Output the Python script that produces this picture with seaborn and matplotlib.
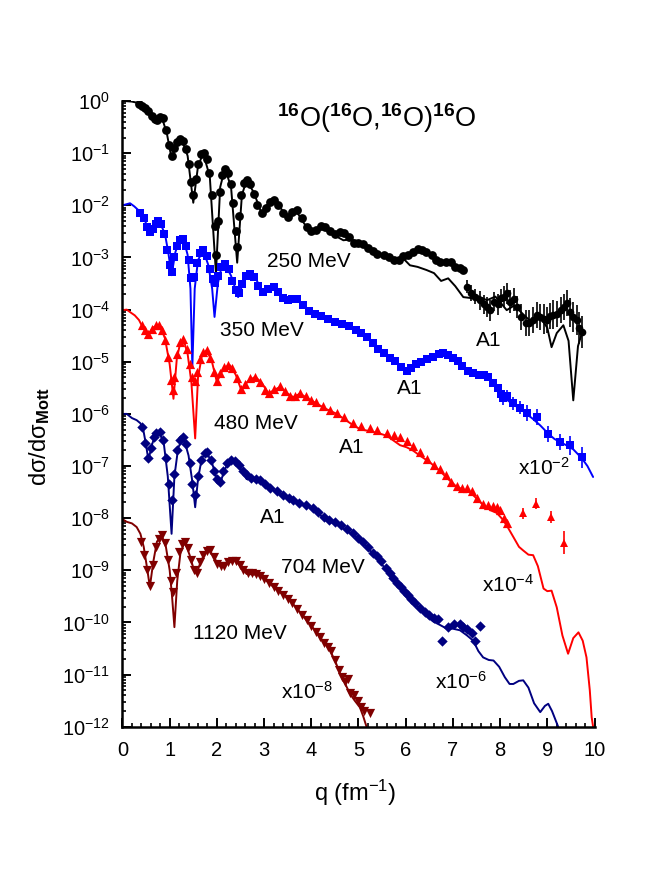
import numpy as np
import matplotlib
matplotlib.use("Agg")
import matplotlib.pyplot as plt
import seaborn as sns
from matplotlib.ticker import LogLocator, NullFormatter, MultipleLocator

# values are log10(dsigma/dsigma_Mott), already scaled (x1, x1e-2, x1e-4, x1e-6, x1e-8)

# ---- 250 MeV (black) ----
q_250_fit = [0.05, 0.2, 0.3, 0.4, 0.5, 0.6, 0.72, 0.83, 0.94, 1.04, 1.14, 1.25, 1.38, 1.50, 1.60, 1.71,
             1.85, 1.98, 2.07, 2.17, 2.30, 2.43, 2.53, 2.63, 2.78, 2.95, 3.05, 3.19, 3.35, 3.50, 3.69,
             3.85, 4.04, 4.18, 4.33, 4.50, 4.68, 4.85, 5.03, 5.17, 5.35, 5.50, 5.65, 5.80, 5.95, 6.09,
             6.25, 6.44, 6.60, 6.75, 6.90, 7.05, 7.22, 7.40, 7.55, 7.72, 7.90, 8.14, 8.30, 8.50, 8.70,
             8.85, 9.00, 9.09, 9.20, 9.34, 9.45, 9.55, 9.65, 9.73]
lg_250_fit = [0.0, -0.01, -0.03, -0.07, -0.14, -0.24, -0.38, -0.30, -0.62, -1.10, -0.85, -0.72, -1.05, -1.95,
              -1.25, -1.00, -1.45, -3.30, -1.65, -1.29, -1.65, -3.10, -1.80, -1.52, -1.75, -2.16, -2.00,
              -1.90, -2.05, -2.25, -2.12, -2.35, -2.55, -2.45, -2.45, -2.58, -2.67, -2.65, -2.73, -2.78,
              -2.95, -2.95, -3.02, -3.05, -3.02, -3.15, -3.18, -3.24, -3.30, -3.45, -3.40, -3.55, -3.76,
              -3.78, -3.75, -3.82, -3.75, -4.01, -3.92, -4.10, -4.27, -4.14, -4.35, -4.72, -4.45, -4.30,
              -4.60, -5.74, -4.70, -4.46]
q_250 = [0.35, 0.42, 0.48, 0.55, 0.62, 0.68, 0.74, 0.80, 0.86, 0.92, 0.98, 1.04, 1.10, 1.16, 1.22, 1.28,
         1.34, 1.40, 1.46, 1.50, 1.55, 1.60, 1.66, 1.72, 1.78, 1.84, 1.90, 1.95, 1.98, 2.02, 2.06, 2.11,
         2.17, 2.23, 2.29, 2.35, 2.40, 2.43, 2.47, 2.52, 2.58, 2.64, 2.70, 2.78, 2.86, 2.95, 3.03, 3.12,
         3.20, 3.30, 3.40, 3.50, 3.60, 3.69, 3.80, 3.90, 4.00, 4.10, 4.20, 4.30, 4.40, 4.50, 4.60, 4.70,
         4.80, 4.90, 5.00, 5.10, 5.20, 5.30, 5.40, 5.53, 5.65, 5.75, 5.85, 5.95, 6.05, 6.15, 6.27, 6.35,
         6.44, 6.55, 6.65, 6.73, 6.85, 6.95, 7.05, 7.15, 7.22]
lg_250 = [-0.05, -0.09, -0.14, -0.20, -0.28, -0.35, -0.37, -0.30, -0.33, -0.55, -0.85, -1.05, -0.90, -0.78,
          -0.72, -0.76, -0.92, -1.20, -1.55, -1.80, -1.50, -1.20, -1.02, -1.00, -1.12, -1.38, -1.80, -2.40,
          -2.95, -2.30, -1.75, -1.42, -1.30, -1.38, -1.60, -1.95, -2.50, -2.80, -2.20, -1.80, -1.58, -1.52,
          -1.60, -1.78, -2.00, -2.15, -2.05, -1.93, -1.90, -2.00, -2.15, -2.22, -2.12, -2.09, -2.25, -2.42,
          -2.50, -2.47, -2.40, -2.42, -2.50, -2.55, -2.52, -2.54, -2.60, -2.72, -2.73, -2.74, -2.82, -2.88,
          -2.93, -2.96, -3.00, -3.04, -3.04, -2.98, -2.95, -2.90, -2.83, -2.86, -2.89, -2.95, -3.05, -3.08,
          -3.09, -3.08, -3.18, -3.21, -3.24]
q_250_a1 = [7.29, 7.38, 7.47, 7.57, 7.65, 7.72, 7.79, 7.88, 7.95, 8.02, 8.08, 8.14, 8.22, 8.30, 8.35, 8.45,
            8.55, 8.62, 8.70, 8.78, 8.85, 8.92, 8.99, 9.05, 9.12, 9.20, 9.28, 9.35, 9.41, 9.48, 9.55, 9.62,
            9.68, 9.73]
lg_250_a1 = [-3.56, -3.68, -3.75, -3.82, -3.90, -3.95, -4.01, -3.85, -3.90, -3.78, -3.75, -3.69, -3.85, -3.80,
             -3.95, -4.15, -4.25, -4.25, -4.20, -4.10, -4.15, -4.18, -4.20, -4.12, -4.10, -4.08, -4.00, -3.95,
             -3.88, -4.05, -4.14, -4.20, -4.35, -4.43]
err_250_a1 = [0.12, 0.15, 0.15, 0.18, 0.18, 0.20, 0.20, 0.18, 0.20, 0.18, 0.20, 0.20, 0.22, 0.22, 0.22, 0.25,
              0.25, 0.25, 0.25, 0.25, 0.25, 0.28, 0.25, 0.25, 0.28, 0.25, 0.25, 0.25, 0.25, 0.28, 0.28, 0.28,
              0.30, 0.30]

# ---- 350 MeV (blue), x10^-2 ----
q_350_fit = [0.0, 0.08, 0.16, 0.25, 0.37, 0.48, 0.58, 0.68, 0.79, 0.90, 0.97, 1.04, 1.12, 1.20, 1.29, 1.38,
             1.44, 1.48, 1.53, 1.60, 1.71, 1.82, 1.90, 1.95, 2.02, 2.10, 2.17, 2.30, 2.45, 2.58, 2.70, 2.85,
             2.98, 3.10, 3.20, 3.35, 3.48, 3.60, 3.69, 3.85, 4.04, 4.18, 4.40, 4.68, 4.82, 5.03, 5.17, 5.30,
             5.46, 5.60, 5.74, 5.88, 6.02, 6.15, 6.30, 6.50, 6.70, 6.80, 6.95, 7.08, 7.25, 7.43, 7.60, 7.79,
             7.95, 8.07, 8.28, 8.45, 8.56, 8.70, 8.85, 9.02, 9.15, 9.27, 9.40, 9.55, 9.73, 9.85, 9.97]
lg_350_fit = [-2.00, -1.98, -1.96, -2.02, -2.12, -2.30, -2.55, -2.40, -2.32, -2.55, -2.90, -3.34, -2.90, -2.68,
              -2.64, -2.95, -3.60, -5.10, -3.60, -3.05, -2.86, -3.15, -3.60, -4.14, -3.50, -3.18, -3.12, -3.35,
              -3.76, -3.42, -3.31, -3.45, -3.69, -3.58, -3.56, -3.72, -3.82, -3.80, -3.80, -3.95, -4.08, -4.12,
              -4.20, -4.30, -4.33, -4.43, -4.52, -4.65, -4.78, -4.88, -4.97, -5.08, -5.16, -5.08, -5.00, -4.92,
              -4.85, -4.84, -4.90, -4.97, -5.12, -5.23, -5.28, -5.35, -5.55, -5.68, -5.82, -5.92, -6.00, -6.10,
              -6.22, -6.38, -6.48, -6.54, -6.60, -6.68, -6.85, -7.00, -7.21]
q_350 = [0.38, 0.45, 0.52, 0.58, 0.64, 0.70, 0.76, 0.82, 0.88, 0.94, 1.00, 1.04, 1.09, 1.15, 1.21, 1.28,
         1.34, 1.40, 1.46, 1.52, 1.58, 1.64, 1.71, 1.78, 1.85, 1.91, 1.96, 2.02, 2.09, 2.17, 2.25, 2.33,
         2.40, 2.46, 2.53, 2.62, 2.70, 2.78, 2.88, 2.98, 3.08, 3.20, 3.30, 3.40, 3.50, 3.60, 3.70, 3.82,
         3.95, 4.08, 4.20, 4.35, 4.50, 4.65, 4.80, 4.95, 5.05, 5.17, 5.30, 5.42, 5.55, 5.67, 5.78, 5.90,
         6.02, 6.12, 6.22, 6.32, 6.45, 6.58, 6.70, 6.80, 6.90, 7.00, 7.10, 7.20, 7.32, 7.43, 7.55, 7.65,
         7.75, 7.85]
lg_350 = [-2.15, -2.25, -2.42, -2.52, -2.45, -2.35, -2.30, -2.35, -2.55, -2.85, -3.15, -3.28, -3.00, -2.78,
          -2.66, -2.65, -2.78, -3.05, -3.40, -3.38, -3.10, -2.92, -2.86, -2.98, -3.22, -3.42, -3.48, -3.35,
          -3.18, -3.12, -3.22, -3.45, -3.62, -3.68, -3.50, -3.35, -3.31, -3.38, -3.55, -3.66, -3.60, -3.56,
          -3.66, -3.78, -3.82, -3.80, -3.80, -3.92, -4.02, -4.08, -4.13, -4.18, -4.24, -4.28, -4.32, -4.40,
          -4.45, -4.52, -4.64, -4.75, -4.84, -4.92, -4.98, -5.10, -5.18, -5.12, -5.05, -5.00, -4.95, -4.90,
          -4.86, -4.84, -4.88, -4.93, -4.98, -5.08, -5.18, -5.22, -5.25, -5.26, -5.30, -5.40]
q_350_a1 = [7.95, 8.02, 8.07, 8.15, 8.28, 8.42, 8.56, 8.78, 9.02, 9.27, 9.48, 9.73]
lg_350_a1 = [-5.50, -5.62, -5.70, -5.65, -5.80, -5.88, -5.98, -6.06, -6.38, -6.54, -6.60, -6.83]
err_350_a1 = [0.08, 0.10, 0.12, 0.10, 0.12, 0.12, 0.15, 0.15, 0.15, 0.15, 0.18, 0.20]

# ---- 480 MeV (red), x10^-4 ----
q_480_fit = [0.0, 0.09, 0.18, 0.26, 0.35, 0.44, 0.55, 0.67, 0.79, 0.90, 1.00, 1.08, 1.15, 1.22, 1.29, 1.38,
             1.46, 1.54, 1.60, 1.68, 1.78, 1.89, 2.00, 2.10, 2.18, 2.28, 2.40, 2.52, 2.65, 2.81, 2.95, 3.09,
             3.20, 3.34, 3.48, 3.62, 3.76, 3.92, 4.11, 4.30, 4.54, 4.70, 4.89, 5.05, 5.24, 5.46, 5.60, 5.88,
             6.02, 6.15, 6.30, 6.50, 6.73, 6.90, 7.08, 7.22, 7.36, 7.50, 7.64, 7.80, 7.93, 8.05, 8.14, 8.28,
             8.40, 8.49, 8.60, 8.70, 8.80, 8.92, 9.00, 9.09, 9.20, 9.32, 9.44, 9.55, 9.66, 9.75, 9.83, 9.90,
             9.94, 9.97]
lg_480_fit = [-4.01, -4.00, -4.06, -4.11, -4.20, -4.36, -4.46, -4.33, -4.30, -4.55, -5.05, -5.71, -4.95, -4.65,
              -4.56, -4.85, -5.40, -6.47, -5.30, -4.90, -4.78, -4.98, -5.39, -5.20, -5.10, -5.07, -5.25, -5.55,
              -5.38, -5.29, -5.40, -5.61, -5.55, -5.48, -5.60, -5.68, -5.61, -5.70, -5.80, -5.90, -6.00, -6.10,
              -6.22, -6.30, -6.33, -6.38, -6.42, -6.60, -6.64, -6.70, -6.80, -6.92, -7.10, -7.25, -7.40, -7.45,
              -7.50, -7.62, -7.75, -7.85, -7.90, -8.02, -8.14, -8.36, -8.55, -8.62, -8.70, -8.71, -8.92, -9.35,
              -9.40, -9.39, -9.71, -10.25, -10.60, -10.30, -10.19, -10.35, -10.67, -11.30, -11.82, -12.0]
q_480 = [0.42, 0.48, 0.55, 0.62, 0.70, 0.78, 0.84, 0.90, 0.96, 1.02, 1.06, 1.10, 1.16, 1.22, 1.29, 1.36,
         1.42, 1.48, 1.53, 1.58, 1.64, 1.71, 1.78, 1.86, 1.94, 2.00, 2.07, 2.15, 2.24, 2.32, 2.42, 2.52,
         2.60, 2.70, 2.81, 2.92, 3.02, 3.10, 3.20, 3.34, 3.45, 3.55, 3.65, 3.76, 3.88, 4.00, 4.11, 4.25,
         4.40, 4.54, 4.70, 4.89, 5.05, 5.24, 5.40, 5.60, 5.75, 5.88, 6.02, 6.15, 6.30, 6.45, 6.60, 6.73,
         6.85, 6.97, 7.08, 7.20, 7.30, 7.40, 7.52, 7.64, 7.75, 7.85, 7.93, 8.00, 8.08, 8.14]
lg_480 = [-4.30, -4.40, -4.47, -4.38, -4.30, -4.30, -4.40, -4.58, -4.90, -5.35, -5.55, -5.30, -4.85, -4.62,
          -4.56, -4.75, -5.05, -5.30, -5.36, -5.20, -4.95, -4.82, -4.78, -4.92, -5.20, -5.36, -5.22, -5.10,
          -5.07, -5.12, -5.32, -5.52, -5.42, -5.32, -5.29, -5.38, -5.55, -5.60, -5.53, -5.47, -5.56, -5.65,
          -5.66, -5.60, -5.66, -5.74, -5.78, -5.85, -5.93, -5.98, -6.05, -6.17, -6.24, -6.27, -6.31, -6.36,
          -6.40, -6.44, -6.52, -6.62, -6.74, -6.86, -6.98, -7.06, -7.18, -7.30, -7.38, -7.42, -7.43, -7.48,
          -7.62, -7.72, -7.74, -7.76, -7.78, -7.85, -8.00, -8.10]
q_480_far = [8.48, 8.76, 9.07, 9.35]
lg_480_far = [-7.91, -7.72, -7.98, -8.47]
err_480_far = [0.10, 0.10, 0.12, 0.22]

# ---- 704 MeV (navy), x10^-6 ----
q_704_fit = [0.0, 0.09, 0.20, 0.30, 0.38, 0.44, 0.50, 0.55, 0.62, 0.70, 0.79, 0.88, 0.96, 1.04, 1.10, 1.18,
             1.29, 1.40, 1.48, 1.54, 1.60, 1.68, 1.78, 1.90, 2.00, 2.07, 2.15, 2.25, 2.35, 2.50, 2.63, 2.75,
             2.91, 3.05, 3.27, 3.45, 3.62, 3.80, 4.04, 4.20, 4.33, 4.54, 4.68, 4.85, 5.03, 5.20, 5.39, 5.55,
             5.74, 5.88, 6.02, 6.16, 6.30, 6.44, 6.58, 6.73, 6.87, 7.00, 7.15, 7.30, 7.43, 7.54, 7.64, 7.76,
             7.86, 7.98, 8.10, 8.20, 8.28, 8.40, 8.49, 8.60, 8.72, 8.85, 8.95, 9.02, 9.10, 9.23]
lg_704_fit = [-6.00, -6.00, -6.08, -6.12, -6.18, -6.30, -6.60, -6.89, -6.60, -6.40, -6.35, -6.60, -7.20, -8.30,
              -7.20, -6.65, -6.44, -6.80, -7.30, -7.79, -7.25, -6.85, -6.73, -6.95, -7.25, -7.34, -7.10, -6.92,
              -6.89, -7.05, -7.25, -7.22, -7.27, -7.38, -7.50, -7.60, -7.66, -7.72, -7.82, -7.95, -8.04, -8.12,
              -8.20, -8.30, -8.43, -8.58, -8.76, -8.95, -9.20, -9.35, -9.52, -9.62, -9.75, -9.88, -9.98, -10.05,
              -10.12, -10.12, -10.15, -10.25, -10.35, -10.55, -10.67, -10.72, -10.73, -10.85, -11.05, -11.18,
              -11.18, -11.12, -11.11, -11.25, -11.55, -11.72, -11.60, -11.56, -11.70, -12.0]
q_704 = [0.42, 0.48, 0.55, 0.60, 0.66, 0.72, 0.79, 0.85, 0.92, 0.98, 1.04, 1.10, 1.16, 1.22, 1.29, 1.35,
         1.42, 1.48, 1.54, 1.60, 1.67, 1.74, 1.80, 1.87, 1.94, 2.00, 2.07, 2.14, 2.22, 2.30, 2.38, 2.46,
         2.55, 2.63, 2.72, 2.82, 2.91, 3.02, 3.12, 3.27, 3.40, 3.52, 3.62, 3.75, 3.88, 4.04, 4.15, 4.27,
         4.38, 4.50, 4.62, 4.75, 4.88, 5.00, 5.10, 5.20, 5.30, 5.39, 5.48, 5.58, 5.66, 5.74, 5.82, 5.90,
         5.97, 6.05, 6.12, 6.20, 6.30, 6.40, 6.50, 6.60, 6.68, 6.76, 6.90, 7.02, 7.15, 7.22, 7.29, 7.40,
         7.47, 7.57]
lg_704 = [-6.25, -6.55, -6.85, -6.65, -6.45, -6.37, -6.35, -6.50, -6.85, -7.35, -7.65, -7.15, -6.70, -6.50,
          -6.44, -6.58, -6.95, -7.35, -7.55, -7.20, -6.88, -6.75, -6.74, -6.88, -7.10, -7.25, -7.30, -7.10,
          -6.94, -6.89, -6.90, -6.98, -7.10, -7.18, -7.22, -7.25, -7.27, -7.35, -7.42, -7.48, -7.55, -7.62,
          -7.66, -7.70, -7.74, -7.80, -7.88, -7.98, -8.04, -8.08, -8.13, -8.20, -8.28, -8.38, -8.45, -8.55,
          -8.66, -8.72, -8.82, -8.95, -9.05, -9.15, -9.25, -9.32, -9.40, -9.48, -9.55, -9.62, -9.72, -9.80,
          -9.85, -9.92, -9.94, -10.35, -10.09, -10.03, -10.03, -10.08, -10.12, -10.20, -10.35, -10.06]

# ---- 1120 MeV (dark red), x10^-8 ----
q_1120_fit = [0.0, 0.09, 0.20, 0.30, 0.38, 0.45, 0.52, 0.58, 0.65, 0.73, 0.83, 0.92, 1.00, 1.05, 1.10, 1.16,
              1.23, 1.32, 1.42, 1.50, 1.57, 1.65, 1.75, 1.85, 1.97, 2.07, 2.14, 2.25, 2.38, 2.50, 2.63, 2.78,
              2.91, 3.05, 3.20, 3.38, 3.55, 3.72, 3.90, 4.05, 4.18, 4.30, 4.40, 4.51, 4.61, 4.72, 4.82, 4.92,
              5.03, 5.10, 5.17]
lg_1120_fit = [-8.02, -8.07, -8.10, -8.17, -8.30, -8.55, -8.95, -9.32, -8.85, -8.45, -8.33, -8.55, -9.00, -9.50,
               -10.09, -9.20, -8.65, -8.46, -8.70, -8.95, -9.07, -8.85, -8.66, -8.62, -8.80, -8.92, -8.94,
               -8.85, -8.81, -8.92, -9.07, -9.08, -9.10, -9.20, -9.32, -9.45, -9.58, -9.76, -9.96, -10.12,
               -10.28, -10.42, -10.54, -10.75, -10.98, -11.18, -11.37, -11.50, -11.63, -11.80, -12.0]
q_1120 = [0.40, 0.46, 0.52, 0.58, 0.64, 0.70, 0.77, 0.83, 0.90, 0.96, 1.02, 1.08, 1.14, 1.20, 1.26, 1.32,
          1.38, 1.45, 1.52, 1.58, 1.64, 1.71, 1.78, 1.85, 1.93, 2.00, 2.08, 2.16, 2.24, 2.32, 2.40, 2.48,
          2.56, 2.65, 2.74, 2.82, 2.91, 3.00, 3.10, 3.20, 3.30, 3.40, 3.50, 3.60, 3.70, 3.80, 3.90, 4.00,
          4.10, 4.18, 4.27, 4.35, 4.42, 4.50, 4.58, 4.65, 4.72, 4.78, 4.82, 4.90, 4.98, 5.05, 5.12, 5.24]
lg_1120 = [-8.45, -8.70, -9.00, -9.30, -8.90, -8.55, -8.40, -8.33, -8.48, -8.80, -9.20, -9.42, -9.05, -8.65,
           -8.50, -8.46, -8.58, -8.80, -9.00, -9.05, -8.85, -8.70, -8.63, -8.62, -8.75, -8.88, -8.92, -8.92,
           -8.85, -8.82, -8.82, -8.90, -9.00, -9.06, -9.06, -9.08, -9.10, -9.16, -9.25, -9.32, -9.40, -9.47,
           -9.55, -9.63, -9.74, -9.85, -9.96, -10.07, -10.18, -10.28, -10.40, -10.48, -10.55, -10.72, -10.92,
           -11.05, -11.15, -11.08, -11.35, -11.40, -11.50, -11.62, -11.70, -11.74]


sns.set_style("ticks")
plt.rcParams['font.family'] = ['Liberation Sans', 'DejaVu Sans']
plt.rcParams['mathtext.fontset'] = 'custom'
plt.rcParams['mathtext.rm'] = 'Liberation Sans'
plt.rcParams['mathtext.it'] = 'Liberation Sans:italic'
plt.rcParams['mathtext.bf'] = 'Liberation Sans:bold'
for key in ['text.color', 'axes.labelcolor', 'xtick.color', 'ytick.color', 'axes.edgecolor']:
    plt.rcParams[key] = 'black'

fig = plt.figure(figsize=(6.46, 8.72), dpi=100)
ax = fig.add_axes([0.1896, 0.1666, 0.7307, 0.7175])
ax.set_yscale('log')

series = [
    (q_250_fit, lg_250_fit, q_250, lg_250, 'black', 'o', 40),
    (q_350_fit, lg_350_fit, q_350, lg_350, '#0000ff', 's', 36),
    (q_480_fit, lg_480_fit, q_480, lg_480, '#ff0000', '^', 44),
    (q_704_fit, lg_704_fit, q_704, lg_704, '#000080', 'D', 28),
    (q_1120_fit, lg_1120_fit, q_1120, lg_1120, '#800000', 'v', 44),
]

for qf, lf, qd, ld, col, mk, size in series:
    sns.lineplot(x=qf, y=10 ** np.array(lf), color=col, lw=1.4, sort=False,
                 estimator=None, ax=ax, zorder=2)
    sns.scatterplot(x=qd, y=10 ** np.array(ld), color=col, marker=mk, s=size,
                    linewidth=0, ax=ax, zorder=3)

# sparse high-q points with error bars
tails = [
    (q_250_a1, lg_250_a1, err_250_a1, 'black', 'o'),
    (q_350_a1, lg_350_a1, err_350_a1, '#0000ff', 's'),
    (q_480_far, lg_480_far, err_480_far, '#ff0000', '^'),
]
for qt, lt, et, col, mk in tails:
    lt = np.array(lt)
    et = np.array(et)
    y = 10 ** lt
    yerr = [y - 10 ** (lt - et), 10 ** (lt + et) - y]
    ax.errorbar(qt, y, yerr=yerr, fmt=mk, color=col, ms=5.5, mew=0, elinewidth=1.2,
                capsize=0, zorder=3)

ax.set_xlim(0, 10)
ax.set_ylim(1e-12, 1)
ax.xaxis.set_major_locator(MultipleLocator(1))
ax.xaxis.set_minor_locator(MultipleLocator(0.2))
ax.yaxis.set_major_locator(LogLocator(base=10, numticks=20))
ax.yaxis.set_minor_locator(LogLocator(base=10, subs=np.arange(2, 10), numticks=200))
ax.yaxis.set_minor_formatter(NullFormatter())

sns.despine(ax=ax)
for sp in ['left', 'bottom']:
    ax.spines[sp].set_linewidth(1.8)
ax.tick_params(which='major', direction='in', length=6.5, width=1.4, labelsize=14.5, pad=9)
ax.tick_params(which='minor', direction='in', length=3.2, width=1.2)
ax.tick_params(axis='x', which='major', pad=10)

ax.set_xlabel('q (fm$^{-1}$)', fontsize=17, va='center')
ax.xaxis.set_label_coords(0.4926, -0.106)
ax.set_ylabel('dσ/dσ$_{\\mathbf{Mott}}$', fontsize=17, ha='center', va='center')
ax.yaxis.set_label_coords(-0.175, 0.464)

fig.text(0.5836, 0.8647, '$^{\\mathbf{16}}$O($^{\\mathbf{16}}$O,$^{\\mathbf{16}}$O)$^{\\mathbf{16}}$O',
         fontsize=19.5, ha='center', va='center')

fs = 15
ax.text(3.95, 10 ** -3.08, '250 MeV', fontsize=fs, ha='center', va='center')
ax.text(2.95, 10 ** -4.40, '350 MeV', fontsize=fs, ha='center', va='center')
ax.text(2.83, 10 ** -6.19, '480 MeV', fontsize=fs, ha='center', va='center')
ax.text(4.25, 10 ** -8.94, '704 MeV', fontsize=fs, ha='center', va='center')
ax.text(2.49, 10 ** -10.22, '1120 MeV', fontsize=fs, ha='center', va='center')
ax.text(7.75, 10 ** -4.59, 'A1', fontsize=fs, ha='center', va='center')
ax.text(6.09, 10 ** -5.51, 'A1', fontsize=fs, ha='center', va='center')
ax.text(4.86, 10 ** -6.64, 'A1', fontsize=fs, ha='center', va='center')
ax.text(3.19, 10 ** -7.98, 'A1', fontsize=fs, ha='center', va='center')
ax.text(8.93, 10 ** -7.17, 'x10$^{-2}$', fontsize=fs, ha='center', va='baseline')
ax.text(8.17, 10 ** -9.42, 'x10$^{-4}$', fontsize=fs, ha='center', va='baseline')
ax.text(7.17, 10 ** -11.27, 'x10$^{-6}$', fontsize=fs, ha='center', va='baseline')
ax.text(3.91, 10 ** -11.46, 'x10$^{-8}$', fontsize=fs, ha='center', va='baseline')

fig.savefig('out.png', dpi=100)
